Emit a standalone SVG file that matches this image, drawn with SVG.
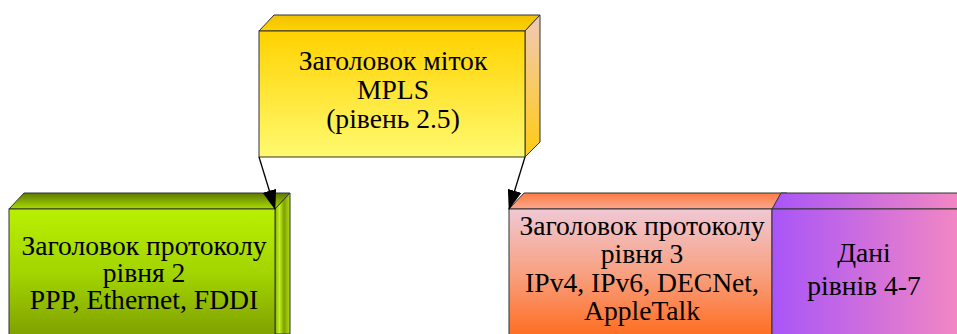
<svg xmlns="http://www.w3.org/2000/svg" width="957" height="334" viewBox="0 0 957 334">
<defs>
<style>
.t{font-family:"Liberation Serif","Times New Roman",serif;font-size:27.6px;fill:#000;text-anchor:middle}
.e{stroke:#333;stroke-width:1}
.c{stroke:#000;stroke-width:1.3;fill:none}
</style>
<linearGradient id="yf" x1="0" y1="0" x2="0" y2="1"><stop offset="0" stop-color="#FFD200"/><stop offset="1" stop-color="#FFFA70"/></linearGradient>
<linearGradient id="yt" x1="0" y1="0" x2="0" y2="1"><stop offset="0" stop-color="#F0C000"/><stop offset="1" stop-color="#FFD400"/></linearGradient>
<linearGradient id="ys" x1="0" y1="0" x2="0" y2="1"><stop offset="0" stop-color="#F0C8B8"/><stop offset="1" stop-color="#FFCC10"/></linearGradient>
<linearGradient id="gf" x1="0" y1="0" x2="0" y2="1"><stop offset="0" stop-color="#B8F000"/><stop offset="0.5" stop-color="#A2D400"/><stop offset="1" stop-color="#7E9E00"/></linearGradient>
<linearGradient id="gt" x1="0" y1="0" x2="0" y2="1"><stop offset="0" stop-color="#5E7A00"/><stop offset="1" stop-color="#A8DC00"/></linearGradient>
<linearGradient id="gs" x1="0" y1="0" x2="1" y2="0"><stop offset="0" stop-color="#86B000"/><stop offset="0.3" stop-color="#C0F020"/><stop offset="0.6" stop-color="#7EA000"/><stop offset="1" stop-color="#B0E010"/></linearGradient>
<linearGradient id="of" x1="0" y1="0" x2="0" y2="1"><stop offset="0" stop-color="#F0C8D4"/><stop offset="0.5" stop-color="#F8A080"/><stop offset="1" stop-color="#FF6A1C"/></linearGradient>
<linearGradient id="ot" x1="0" y1="0" x2="0" y2="1"><stop offset="0" stop-color="#FF7A40"/><stop offset="1" stop-color="#F8A890"/></linearGradient>
<linearGradient id="pf" x1="0" y1="0" x2="1" y2="0"><stop offset="0" stop-color="#A855F8"/><stop offset="1" stop-color="#F88AC0"/></linearGradient>
<marker id="ah" markerWidth="20" markerHeight="14" refX="19" refY="7" orient="auto" markerUnits="userSpaceOnUse"><path d="M0,0 L20,7 L0,14 Z" fill="#000"/></marker>
</defs>

<g id="mpls">
<polygon class="e" points="259,31 274,15 540,15 525,31" fill="url(#yt)"/>
<polygon class="e" points="525,31 540,15 540,142 525,157" fill="url(#ys)"/>
<rect class="e" x="259" y="31" width="266" height="126" fill="url(#yf)"/>
<text class="t" x="393" y="70">Заголовок міток</text>
<text class="t" x="393" y="99">MPLS</text>
<text class="t" x="393" y="128">(рівень 2.5)</text>
</g>

<g id="l2">
<polygon class="e" points="9,209 24,193 290,193 275,209" fill="url(#gt)"/>
<polygon class="e" points="275,209 290,193 290,334 275,334" fill="url(#gs)"/>
<rect class="e" x="9" y="209" width="266" height="130" fill="url(#gf)"/>
<text class="t" x="144" y="255">Заголовок протоколу</text>
<text class="t" x="144" y="282">рівня 2</text>
<text class="t" x="144" y="309">PPP, Ethernet, FDDI</text>
</g>

<g id="l3">
<polygon class="e" points="509,209 524,193 787,193 772,209" fill="url(#ot)"/>
<rect class="e" x="509" y="209" width="263" height="130" fill="url(#of)"/>
<text class="t" x="642" y="235">Заголовок протоколу</text>
<text class="t" x="642" y="263">рівня 3</text>
<text class="t" x="642" y="292">IPv4, IPv6, DECNet,</text>
<text class="t" x="642" y="320">AppleTalk</text>
</g>

<g id="data">
<polygon class="e" points="772,209 781,193 970,193 970,209" fill="url(#pf)"/>
<rect class="e" x="772" y="209" width="200" height="130" fill="url(#pf)"/>
<text class="t" x="864" y="262">Дані</text>
<text class="t" x="864" y="295">рівнів 4-7</text>
</g>

<g id="connectors">
<line class="c" x1="259" y1="157" x2="275" y2="209" marker-end="url(#ah)"/>
<line class="c" x1="525" y1="157" x2="509" y2="209" marker-end="url(#ah)"/>
</g>
</svg>
